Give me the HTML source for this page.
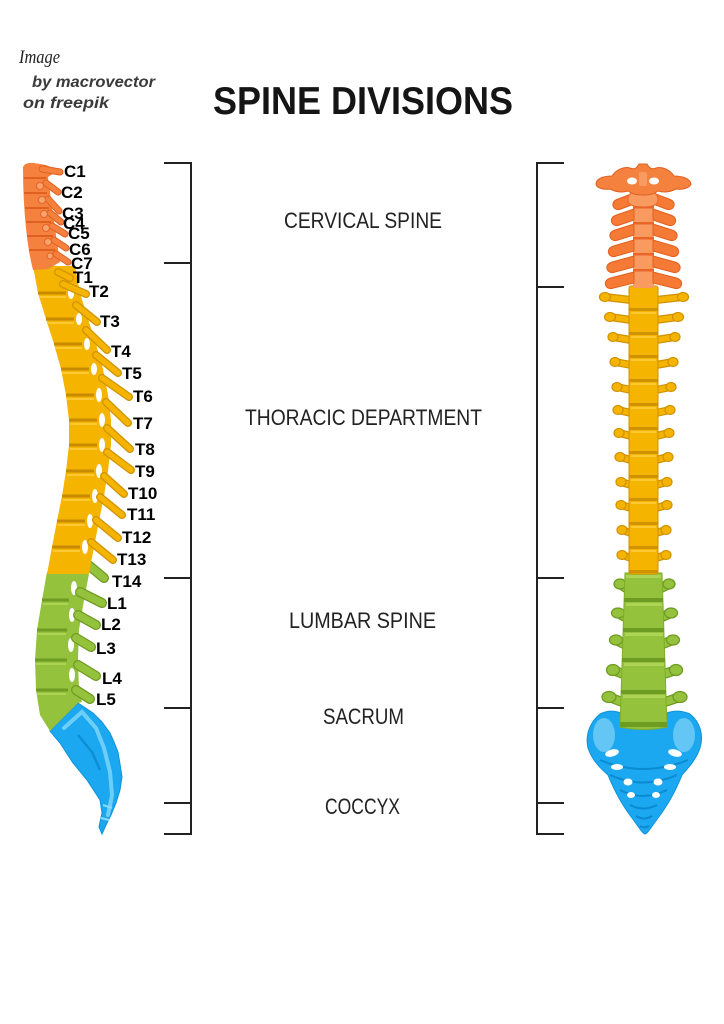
<!DOCTYPE html>
<html>
<head>
<meta charset="utf-8">
<style>
html,body{margin:0;padding:0;background:#fff;}
body{width:724px;height:1024px;overflow:hidden;}
svg{display:block;}
.lbl{font-family:"Liberation Sans",Arial,sans-serif;font-weight:bold;font-size:17px;fill:#000;}
.sec{font-family:"Liberation Sans",Arial,sans-serif;font-size:22px;fill:#222;}
.br{stroke:#222;stroke-width:2;fill:none;}
.ya{stroke:#D09200;stroke-width:8;stroke-linecap:round;fill:none;}
.yb{stroke:#F4B400;stroke-width:5.5;stroke-linecap:round;fill:none;}
.ga{stroke:#6E9B22;stroke-width:10;stroke-linecap:round;fill:none;}
.gb{stroke:#95C23D;stroke-width:7.5;stroke-linecap:round;fill:none;}
.oa{stroke:#E2601F;stroke-width:7;stroke-linecap:round;fill:none;}
.ob{stroke:#F5813E;stroke-width:5;stroke-linecap:round;fill:none;}
.yk{fill:#F4B400;stroke:#D09200;stroke-width:1.2;}
.gk{fill:#95C23D;stroke:#6E9B22;stroke-width:1.3;}
.ow{fill:#F47A35;stroke:#E2601F;stroke-width:1;}
</style>
</head>
<body>
<svg width="724" height="1024" viewBox="0 0 724 1024" xmlns="http://www.w3.org/2000/svg">
<rect width="724" height="1024" fill="#fff"/>

<!-- credit -->
<text x="19" y="63" font-family="Liberation Serif, serif" font-style="italic" font-size="19" textLength="41" lengthAdjust="spacingAndGlyphs" fill="#222">Image</text>
<text x="32" y="87" font-family="Liberation Sans, sans-serif" font-style="italic" font-weight="bold" font-size="16" textLength="123" lengthAdjust="spacingAndGlyphs" fill="#3a3a3a">by macrovector</text>
<text x="23" y="108" font-family="Liberation Sans, sans-serif" font-style="italic" font-weight="bold" font-size="16" textLength="86" lengthAdjust="spacingAndGlyphs" fill="#3a3a3a">on freepik</text>

<!-- title -->
<text x="213" y="114" font-family="Liberation Sans, sans-serif" font-weight="bold" font-size="39" textLength="300" lengthAdjust="spacingAndGlyphs" fill="#151515">SPINE DIVISIONS</text>

<!-- brackets -->
<line class="br" x1="191" y1="162" x2="191" y2="835"/>
<line class="br" x1="164" y1="163" x2="191" y2="163"/>
<line class="br" x1="164" y1="263" x2="191" y2="263"/>
<line class="br" x1="164" y1="578" x2="191" y2="578"/>
<line class="br" x1="164" y1="708" x2="191" y2="708"/>
<line class="br" x1="164" y1="803" x2="191" y2="803"/>
<line class="br" x1="164" y1="834" x2="191" y2="834"/>

<line class="br" x1="537" y1="162" x2="537" y2="835"/>
<line class="br" x1="537" y1="163" x2="564" y2="163"/>
<line class="br" x1="537" y1="287" x2="564" y2="287"/>
<line class="br" x1="537" y1="578" x2="564" y2="578"/>
<line class="br" x1="537" y1="708" x2="564" y2="708"/>
<line class="br" x1="537" y1="803" x2="564" y2="803"/>
<line class="br" x1="537" y1="834" x2="564" y2="834"/>

<!-- section labels -->
<text class="sec" x="284" y="228" textLength="158" lengthAdjust="spacingAndGlyphs">CERVICAL SPINE</text>
<text class="sec" x="245" y="425" textLength="237" lengthAdjust="spacingAndGlyphs">THORACIC DEPARTMENT</text>
<text class="sec" x="289" y="628" textLength="147" lengthAdjust="spacingAndGlyphs">LUMBAR SPINE</text>
<text class="sec" x="323" y="724" textLength="81" lengthAdjust="spacingAndGlyphs">SACRUM</text>
<text class="sec" x="325" y="814" textLength="75" lengthAdjust="spacingAndGlyphs">COCCYX</text>

<!-- ================= LEFT (lateral) SPINE ================= -->
<!-- sacrum / coccyx -->
<path d="M50,731 L78,703 L93,713 L102,722 L110,733 L114,742 L118,752 L120,764 L122,777 L120,790 L116,803 L111,815 L106,825 L102,834 L99,827 L102,813 L100,800 L87,780 L73,763 L60,743 Z" fill="#1BA8F0" stroke="#0E93DA" stroke-width="1"/>
<path d="M64,728 L82,712 L96,728 L104,748 L110,772 L112,795 L108,815" fill="none" stroke="#6DCFF8" stroke-width="4" stroke-linecap="round"/>
<path d="M78,735 L92,752 L100,770" fill="none" stroke="#0C8ED6" stroke-width="2.5"/>
<path d="M103,805 L112,808 M101,818 L109,820" stroke="#8ADAF9" stroke-width="2"/>

<!-- lumbar -->
<path d="M47,572 L75,572 L89,574 L84,600 L79,630 L78,660 L79,690 L82,702 L78,703 L50,731 L40,715 L36,690 L35,660 L37,630 L42,600 Z" fill="#95C23D"/>
<ellipse cx="74" cy="588" rx="3" ry="7" fill="#fff"/>
<ellipse cx="72" cy="615" rx="3" ry="7" fill="#fff"/>
<ellipse cx="71" cy="645" rx="3" ry="7" fill="#fff"/>
<ellipse cx="72" cy="675" rx="3" ry="7" fill="#fff"/>
<g stroke="#6E9B22" stroke-width="3">
<line x1="42" y1="600" x2="69" y2="600"/>
<line x1="37" y1="630" x2="67" y2="630"/>
<line x1="35" y1="660" x2="67" y2="660"/>
<line x1="36" y1="690" x2="68" y2="690"/>
</g>
<g stroke="#AED456" stroke-width="2">
<line x1="43" y1="604" x2="68" y2="604"/>
<line x1="38" y1="634" x2="66" y2="634"/>
<line x1="36" y1="664" x2="66" y2="664"/>
<line x1="37" y1="694" x2="66" y2="694"/>
</g>
<line class="ga" x1="86" y1="563" x2="104" y2="578"/>
<line class="ga" x1="80" y1="592" x2="102" y2="603"/>
<line class="ga" x1="78" y1="615" x2="96" y2="625"/>
<line class="ga" x1="76" y1="638" x2="91" y2="647"/>
<line class="ga" x1="78" y1="665" x2="96" y2="676"/>
<line class="ga" x1="76" y1="690" x2="90" y2="699"/>
<line class="gb" x1="86" y1="563" x2="104" y2="578"/>
<line class="gb" x1="80" y1="592" x2="102" y2="603"/>
<line class="gb" x1="78" y1="615" x2="96" y2="625"/>
<line class="gb" x1="76" y1="638" x2="91" y2="647"/>
<line class="gb" x1="78" y1="665" x2="96" y2="676"/>
<line class="gb" x1="76" y1="690" x2="90" y2="699"/>

<!-- thoracic -->
<path d="M33,266 L38,293 L46,319 L54,344 L61,369 L66,395 L69,420 L69,445 L66,471 L62,496 L57,521 L52,547 L47,574 L89,574 L94,547 L99,521 L104,496 L108,471 L111,445 L111,420 L108,395 L103,369 L96,344 L88,319 L80,293 L75,266 Z" fill="#F4B400"/>
<g fill="#fff">
<ellipse cx="71" cy="293" rx="3" ry="6"/>
<ellipse cx="79" cy="319" rx="3" ry="6"/>
<ellipse cx="87" cy="344" rx="3" ry="6"/>
<ellipse cx="94" cy="369" rx="3" ry="6"/>
<ellipse cx="99" cy="395" rx="3" ry="7"/>
<ellipse cx="102" cy="420" rx="3" ry="7"/>
<ellipse cx="102" cy="445" rx="3" ry="7"/>
<ellipse cx="99" cy="471" rx="3" ry="7"/>
<ellipse cx="95" cy="496" rx="3" ry="7"/>
<ellipse cx="90" cy="521" rx="3" ry="7"/>
<ellipse cx="85" cy="547" rx="3" ry="7"/>
</g>
<g stroke="#C98A00" stroke-width="3">
<line x1="38" y1="293" x2="66" y2="293"/>
<line x1="46" y1="319" x2="74" y2="319"/>
<line x1="54" y1="344" x2="82" y2="344"/>
<line x1="61" y1="369" x2="89" y2="369"/>
<line x1="66" y1="395" x2="94" y2="395"/>
<line x1="69" y1="420" x2="97" y2="420"/>
<line x1="69" y1="445" x2="97" y2="445"/>
<line x1="66" y1="471" x2="94" y2="471"/>
<line x1="62" y1="496" x2="90" y2="496"/>
<line x1="57" y1="521" x2="85" y2="521"/>
<line x1="52" y1="547" x2="80" y2="547"/>
</g>
<g stroke="#FFC933" stroke-width="2">
<line x1="39" y1="297" x2="66" y2="297"/>
<line x1="47" y1="323" x2="74" y2="323"/>
<line x1="55" y1="348" x2="82" y2="348"/>
<line x1="62" y1="373" x2="89" y2="373"/>
<line x1="67" y1="399" x2="94" y2="399"/>
<line x1="70" y1="424" x2="97" y2="424"/>
<line x1="70" y1="449" x2="97" y2="449"/>
<line x1="67" y1="475" x2="94" y2="475"/>
<line x1="63" y1="500" x2="90" y2="500"/>
<line x1="58" y1="525" x2="85" y2="525"/>
<line x1="53" y1="551" x2="80" y2="551"/>
</g>
<g class="ya">
<line x1="58" y1="272" x2="70" y2="278"/>
<line x1="63" y1="284" x2="86" y2="294"/>
<line x1="76" y1="305" x2="97" y2="322"/>
<line x1="86" y1="330" x2="107" y2="350"/>
<line x1="96" y1="355" x2="118" y2="373"/>
<line x1="102" y1="378" x2="129" y2="397"/>
<line x1="106" y1="402" x2="128" y2="423"/>
<line x1="107" y1="428" x2="130" y2="449"/>
<line x1="107" y1="452" x2="131" y2="470"/>
<line x1="104" y1="476" x2="124" y2="494"/>
<line x1="100" y1="497" x2="122" y2="515"/>
<line x1="96" y1="520" x2="118" y2="538"/>
<line x1="91" y1="542" x2="113" y2="560"/>
</g>
<g class="yb">
<line x1="58" y1="272" x2="70" y2="278"/>
<line x1="63" y1="284" x2="86" y2="294"/>
<line x1="76" y1="305" x2="97" y2="322"/>
<line x1="86" y1="330" x2="107" y2="350"/>
<line x1="96" y1="355" x2="118" y2="373"/>
<line x1="102" y1="378" x2="129" y2="397"/>
<line x1="106" y1="402" x2="128" y2="423"/>
<line x1="107" y1="428" x2="130" y2="449"/>
<line x1="107" y1="452" x2="131" y2="470"/>
<line x1="104" y1="476" x2="124" y2="494"/>
<line x1="100" y1="497" x2="122" y2="515"/>
<line x1="96" y1="520" x2="118" y2="538"/>
<line x1="91" y1="542" x2="113" y2="560"/>
</g>

<!-- cervical -->
<path d="M23,167 Q25,162 34,163 L46,165 Q54,168 56,172 L48,177 L50,192 L52,207 L54,221 L56,235 L58,249 L60,262 L48,269 L33,270 Q28,250 26,228 Q23,200 23,167 Z" fill="#F5813E"/>
<g class="oa">
<line x1="42" y1="169" x2="60" y2="172"/>
<line x1="46" y1="183" x2="58" y2="192"/>
<line x1="48" y1="199" x2="59" y2="211"/>
<line x1="50" y1="213" x2="61" y2="222"/>
<line x1="52" y1="226" x2="65" y2="234"/>
<line x1="54" y1="240" x2="66" y2="248"/>
<line x1="56" y1="254" x2="68" y2="262"/>
</g>
<g class="ob">
<line x1="42" y1="169" x2="60" y2="172"/>
<line x1="46" y1="183" x2="58" y2="192"/>
<line x1="48" y1="199" x2="59" y2="211"/>
<line x1="50" y1="213" x2="61" y2="222"/>
<line x1="52" y1="226" x2="65" y2="234"/>
<line x1="54" y1="240" x2="66" y2="248"/>
<line x1="56" y1="254" x2="68" y2="262"/>
</g>
<g stroke="#E0601F" stroke-width="2">
<line x1="24" y1="178" x2="46" y2="178"/>
<line x1="24" y1="193" x2="47" y2="193"/>
<line x1="25" y1="208" x2="49" y2="208"/>
<line x1="26" y1="222" x2="51" y2="222"/>
<line x1="27" y1="236" x2="53" y2="236"/>
<line x1="29" y1="250" x2="55" y2="250"/>
</g>
<g fill="#F9A46E" stroke="#E5652A" stroke-width="1">
<circle cx="40" cy="186" r="3.5"/>
<circle cx="42" cy="200" r="3.5"/>
<circle cx="44" cy="214" r="3.5"/>
<circle cx="46" cy="228" r="3.5"/>
<circle cx="48" cy="242" r="3.5"/>
<circle cx="50" cy="256" r="3"/>
</g>

<!-- left labels -->
<g class="lbl">
<text x="64" y="177">C1</text>
<text x="61" y="198">C2</text>
<text x="62" y="219">C3</text>
<text x="63" y="229">C4</text>
<text x="68" y="239">C5</text>
<text x="69" y="255">C6</text>
<text x="71" y="269">C7</text>
<text x="73" y="283">T1</text>
<text x="89" y="297">T2</text>
<text x="100" y="327">T3</text>
<text x="111" y="357">T4</text>
<text x="122" y="379">T5</text>
<text x="133" y="402">T6</text>
<text x="133" y="429">T7</text>
<text x="135" y="455">T8</text>
<text x="135" y="477">T9</text>
<text x="128" y="499">T10</text>
<text x="127" y="520">T11</text>
<text x="122" y="543">T12</text>
<text x="117" y="565">T13</text>
<text x="112" y="587">T14</text>
<text x="107" y="609">L1</text>
<text x="101" y="630">L2</text>
<text x="96" y="654">L3</text>
<text x="102" y="684">L4</text>
<text x="96" y="705">L5</text>
</g>

<!-- ================= RIGHT (frontal) SPINE ================= -->
<!-- sacrum -->
<path d="M600,714 C612,708 625,712 632,722 L655,722 C662,712 676,708 690,714 C700,722 704,735 700,748 C696,760 688,768 682,775 C676,790 668,805 658,818 C652,826 648,833 645,834 C642,833 638,826 632,818 C622,805 614,790 608,775 C600,768 592,760 588,748 C585,735 590,722 600,714 Z" fill="#1BA8F0" stroke="#0E93DA" stroke-width="1"/>
<ellipse cx="604" cy="735" rx="11" ry="17" fill="#63C6F5"/>
<ellipse cx="684" cy="735" rx="11" ry="17" fill="#63C6F5"/>
<g fill="none" stroke="#0B8AD0" stroke-width="2">
<path d="M600,760 Q643,778 688,760"/>
<path d="M610,775 Q643,790 677,775"/>
<path d="M620,790 Q643,802 667,790"/>
<path d="M630,805 Q643,812 657,805"/>
<path d="M636,816 Q644,821 652,816"/>
<path d="M640,826 Q644,829 649,826"/>
</g>
<g fill="#fff">
<ellipse cx="612" cy="753" rx="7" ry="3.5" transform="rotate(-15 612 753)"/>
<ellipse cx="675" cy="753" rx="7" ry="3.5" transform="rotate(15 675 753)"/>
<ellipse cx="617" cy="767" rx="6" ry="3"/>
<ellipse cx="670" cy="767" rx="6" ry="3"/>
<ellipse cx="628" cy="782" rx="4.5" ry="3.5"/>
<ellipse cx="658" cy="782" rx="4.5" ry="3.5"/>
<ellipse cx="631" cy="795" rx="4" ry="3"/>
<ellipse cx="656" cy="795" rx="4" ry="3"/>
</g>

<!-- lumbar -->
<g class="ga">
<line x1="626" y1="588" x2="620" y2="584"/><line x1="661" y1="588" x2="669" y2="584"/>
<line x1="625" y1="617" x2="618" y2="613"/><line x1="662" y1="617" x2="671" y2="613"/>
<line x1="624" y1="644" x2="616" y2="640"/><line x1="663" y1="644" x2="673" y2="640"/>
<line x1="623" y1="674" x2="613" y2="670"/><line x1="664" y1="674" x2="676" y2="670"/>
<line x1="622" y1="702" x2="609" y2="697"/><line x1="665" y1="702" x2="680" y2="697"/>
</g>
<g class="gb">
<line x1="626" y1="588" x2="620" y2="584"/><line x1="661" y1="588" x2="669" y2="584"/>
<line x1="625" y1="617" x2="618" y2="613"/><line x1="662" y1="617" x2="671" y2="613"/>
<line x1="624" y1="644" x2="616" y2="640"/><line x1="663" y1="644" x2="673" y2="640"/>
<line x1="623" y1="674" x2="613" y2="670"/><line x1="664" y1="674" x2="676" y2="670"/>
<line x1="622" y1="702" x2="609" y2="697"/><line x1="665" y1="702" x2="680" y2="697"/>
</g>
<g class="gk">
<ellipse cx="620" cy="584" rx="6" ry="5"/><ellipse cx="669" cy="584" rx="6" ry="5"/>
<ellipse cx="618" cy="613" rx="6.5" ry="5"/><ellipse cx="671" cy="613" rx="6.5" ry="5"/>
<ellipse cx="616" cy="640" rx="6.5" ry="5"/><ellipse cx="673" cy="640" rx="6.5" ry="5"/>
<ellipse cx="613" cy="670" rx="6.5" ry="5.5"/><ellipse cx="676" cy="670" rx="6.5" ry="5.5"/>
<ellipse cx="609" cy="697" rx="7" ry="5.5"/><ellipse cx="680" cy="697" rx="7" ry="5.5"/>
</g>
<path d="M625,573 L662,573 L667,727 Q644,732 620,727 Z" fill="#95C23D" stroke="#7FAE2C" stroke-width="1"/>
<g fill="#6E9B22">
<rect x="624" y="598" width="39" height="4"/>
<rect x="623" y="628" width="41" height="4"/>
<rect x="622" y="658" width="43" height="4"/>
<rect x="621" y="690" width="45" height="4"/>
<rect x="620" y="722" width="47" height="5"/>
</g>
<g fill="#AED456">
<rect x="626" y="575" width="35" height="3"/>
<rect x="626" y="603" width="36" height="3"/>
<rect x="625" y="633" width="38" height="3"/>
<rect x="624" y="663" width="40" height="3"/>
<rect x="623" y="695" width="42" height="3"/>
</g>

<!-- thoracic -->
<g class="ya">
<line x1="631" y1="300" x2="605" y2="297"/><line x1="656" y1="300" x2="683" y2="297"/>
<line x1="631" y1="320" x2="610" y2="317"/><line x1="656" y1="320" x2="678" y2="317"/>
<line x1="631" y1="340" x2="613" y2="337"/><line x1="656" y1="340" x2="675" y2="337"/>
<line x1="631" y1="365" x2="615" y2="362"/><line x1="656" y1="365" x2="673" y2="362"/>
<line x1="631" y1="390" x2="617" y2="387"/><line x1="656" y1="390" x2="671" y2="387"/>
<line x1="631" y1="413" x2="618" y2="410"/><line x1="656" y1="413" x2="670" y2="410"/>
<line x1="631" y1="436" x2="619" y2="433"/><line x1="656" y1="436" x2="669" y2="433"/>
<line x1="631" y1="460" x2="620" y2="457"/><line x1="656" y1="460" x2="668" y2="457"/>
<line x1="631" y1="485" x2="621" y2="482"/><line x1="656" y1="485" x2="667" y2="482"/>
<line x1="631" y1="508" x2="621" y2="505"/><line x1="656" y1="508" x2="667" y2="505"/>
<line x1="631" y1="533" x2="622" y2="530"/><line x1="656" y1="533" x2="666" y2="530"/>
<line x1="631" y1="558" x2="622" y2="555"/><line x1="656" y1="558" x2="666" y2="555"/>
</g>
<g class="yb">
<line x1="631" y1="300" x2="605" y2="297"/><line x1="656" y1="300" x2="683" y2="297"/>
<line x1="631" y1="320" x2="610" y2="317"/><line x1="656" y1="320" x2="678" y2="317"/>
<line x1="631" y1="340" x2="613" y2="337"/><line x1="656" y1="340" x2="675" y2="337"/>
<line x1="631" y1="365" x2="615" y2="362"/><line x1="656" y1="365" x2="673" y2="362"/>
<line x1="631" y1="390" x2="617" y2="387"/><line x1="656" y1="390" x2="671" y2="387"/>
<line x1="631" y1="413" x2="618" y2="410"/><line x1="656" y1="413" x2="670" y2="410"/>
<line x1="631" y1="436" x2="619" y2="433"/><line x1="656" y1="436" x2="669" y2="433"/>
<line x1="631" y1="460" x2="620" y2="457"/><line x1="656" y1="460" x2="668" y2="457"/>
<line x1="631" y1="485" x2="621" y2="482"/><line x1="656" y1="485" x2="667" y2="482"/>
<line x1="631" y1="508" x2="621" y2="505"/><line x1="656" y1="508" x2="667" y2="505"/>
<line x1="631" y1="533" x2="622" y2="530"/><line x1="656" y1="533" x2="666" y2="530"/>
<line x1="631" y1="558" x2="622" y2="555"/><line x1="656" y1="558" x2="666" y2="555"/>
</g>
<g class="yk">
<ellipse cx="605" cy="297" rx="5.5" ry="4.5"/><ellipse cx="683" cy="297" rx="5.5" ry="4.5"/>
<ellipse cx="610" cy="317" rx="5.5" ry="4.5"/><ellipse cx="678" cy="317" rx="5.5" ry="4.5"/>
<ellipse cx="613" cy="337" rx="5" ry="4.5"/><ellipse cx="675" cy="337" rx="5" ry="4.5"/>
<ellipse cx="615" cy="362" rx="5" ry="4.5"/><ellipse cx="673" cy="362" rx="5" ry="4.5"/>
<ellipse cx="617" cy="387" rx="5" ry="4.5"/><ellipse cx="671" cy="387" rx="5" ry="4.5"/>
<ellipse cx="618" cy="410" rx="5" ry="4.5"/><ellipse cx="670" cy="410" rx="5" ry="4.5"/>
<ellipse cx="619" cy="433" rx="5" ry="4.5"/><ellipse cx="669" cy="433" rx="5" ry="4.5"/>
<ellipse cx="620" cy="457" rx="5" ry="4.5"/><ellipse cx="668" cy="457" rx="5" ry="4.5"/>
<ellipse cx="621" cy="482" rx="5" ry="4.5"/><ellipse cx="667" cy="482" rx="5" ry="4.5"/>
<ellipse cx="621" cy="505" rx="5" ry="4.5"/><ellipse cx="667" cy="505" rx="5" ry="4.5"/>
<ellipse cx="622" cy="530" rx="5" ry="4.5"/><ellipse cx="666" cy="530" rx="5" ry="4.5"/>
<ellipse cx="622" cy="555" rx="5" ry="4.5"/><ellipse cx="666" cy="555" rx="5" ry="4.5"/>
</g>
<rect x="629" y="286" width="29" height="288" rx="2" fill="#F4B400" stroke="#D09200" stroke-width="1"/>
<g fill="#D09200">
<rect x="629" y="308" width="29" height="3"/>
<rect x="629" y="332" width="29" height="3"/>
<rect x="629" y="355" width="29" height="3"/>
<rect x="629" y="379" width="29" height="3"/>
<rect x="629" y="403" width="29" height="3"/>
<rect x="629" y="427" width="29" height="3"/>
<rect x="629" y="451" width="29" height="3"/>
<rect x="629" y="475" width="29" height="3"/>
<rect x="629" y="498" width="29" height="3"/>
<rect x="629" y="522" width="29" height="3"/>
<rect x="629" y="546" width="29" height="3"/>
<rect x="629" y="570" width="29" height="3"/>
</g>
<g fill="#FFC933">
<rect x="631" y="312" width="25" height="2"/>
<rect x="631" y="336" width="25" height="2"/>
<rect x="631" y="359" width="25" height="2"/>
<rect x="631" y="383" width="25" height="2"/>
<rect x="631" y="407" width="25" height="2"/>
<rect x="631" y="431" width="25" height="2"/>
<rect x="631" y="455" width="25" height="2"/>
<rect x="631" y="479" width="25" height="2"/>
<rect x="631" y="502" width="25" height="2"/>
<rect x="631" y="526" width="25" height="2"/>
<rect x="631" y="550" width="25" height="2"/>
</g>

<!-- cervical -->
<rect x="633" y="190" width="21" height="98" fill="#F99A60"/>
<g class="ow">
<path d="M634,193 L618,199 Q612,201 613,206 Q615,211 621,209 L634,204 Z"/>
<path d="M653,193 L669,199 Q675,201 674,206 Q672,211 666,209 L653,204 Z"/>
<path d="M634,209 L616.5,215 Q610.5,217 611.5,222 Q613.5,227 619.5,225 L634,220 Z"/>
<path d="M653,209 L670.5,215 Q676.5,217 675.5,222 Q673.5,227 667.5,225 L653,220 Z"/>
<path d="M634,224 L615,230 Q609,232 610,237 Q612,242 618,240 L634,235 Z"/>
<path d="M653,224 L672,230 Q678,232 677,237 Q675,242 669,240 L653,235 Z"/>
<path d="M634,240 L613.5,246 Q607.5,248 608.5,253 Q610.5,258 616.5,256 L634,251 Z"/>
<path d="M653,240 L673.5,246 Q679.5,248 678.5,253 Q676.5,258 670.5,256 L653,251 Z"/>
<path d="M634,256 L612,262 Q606,264 607,269 Q609,274 615,272 L634,267 Z"/>
<path d="M653,256 L675,262 Q681,264 680,269 Q678,274 672,272 L653,267 Z"/>
<path d="M634,272 L610.5,278 Q604.5,280 605.5,285 Q607.5,290 613.5,288 L634,283 Z"/>
<path d="M653,272 L676.5,278 Q682.5,280 681.5,285 Q679.5,290 673.5,288 L653,283 Z"/>
</g>
<g fill="#E8662A">
<rect x="633" y="206" width="21" height="2.5"/>
<rect x="633" y="222" width="21" height="2.5"/>
<rect x="633" y="237" width="21" height="2.5"/>
<rect x="633" y="253" width="21" height="2.5"/>
<rect x="633" y="269" width="21" height="2.5"/>
</g>
<!-- C2 body with dens -->
<path d="M628,200 Q628,190 643,190 Q658,190 658,200 Q658,207 643,207 Q628,207 628,200 Z" fill="#F99A60" stroke="#E8662A" stroke-width="1"/>
<!-- C1 atlas -->
<path d="M596,184 C596,178 605,176 612,176 C616,170 624,166 630,168 C634,170 637,168 639,164 L647,164 C649,168 652,170 656,168 C662,166 670,170 674,176 C681,176 690,178 691,184 C690,188 682,190 676,189 C670,192 664,193 658,191 C654,194 650,195 643,195 C636,195 632,194 628,191 C622,193 616,192 610,189 C604,190 596,188 596,184 Z" fill="#F5813E" stroke="#E2601F" stroke-width="1"/>
<ellipse cx="632" cy="181" rx="5" ry="3.5" fill="#fff"/>
<ellipse cx="654" cy="181" rx="5" ry="3.5" fill="#fff"/>
<rect x="639" y="172" width="8" height="14" rx="2" fill="#F99A60"/>
</svg>
</body>
</html>
